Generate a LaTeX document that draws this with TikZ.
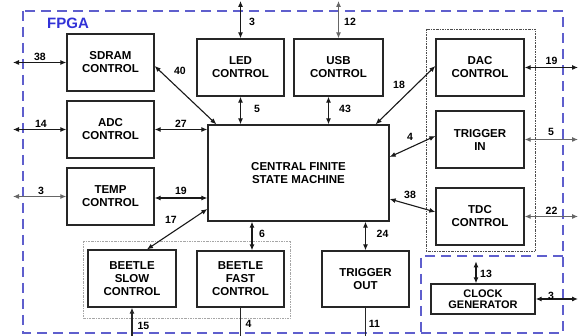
\documentclass[tikz,border=0pt]{standalone}
\usepackage{fontspec}
\setmainfont{Liberation Sans}
\usetikzlibrary{arrows.meta,calc}
\definecolor{fpgablue}{RGB}{95,95,205}
\definecolor{fpgatext}{RGB}{50,50,215}
\begin{document}
\begin{tikzpicture}[x=1pt,y=-1pt,
  blk/.style={draw=black!85,line width=1.3pt,minimum width=87pt,minimum height=57pt,inner sep=0pt,align=center,font=\bfseries\fontsize{11.5}{13}\selectfont},
  lbl/.style={font=\bfseries\fontsize{10.5}{12}\selectfont,inner sep=0pt},
  conn/.style={line width=1.1pt,black!90,{Latex[length=6pt,width=5pt]}-{Latex[length=6pt,width=5pt]}},
  gconn/.style={conn,black!60},
  plain/.style={line width=1.1pt,black!85},
  fpgaline/.style={draw=fpgablue,line width=1.4pt,dash pattern=on 10pt off 6pt},
  grpdark/.style={draw=black!70,line width=0.8pt,dash pattern=on 2pt off 1pt on 0.6pt off 1pt},
  grplight/.style={draw=black!35,line width=0.8pt,dash pattern=on 2pt off 1pt on 0.6pt off 1pt}]
\useasboundingbox (0,0) rectangle (582,336);
\fill[white] (0,0) rectangle (582,336);
% FPGA border and clock region
\draw[fpgaline] (23,11) rectangle (563,333);
\draw[fpgaline] (563,256) -- (421,256) -- (421,333);
\node[font=\bfseries\fontsize{15}{15}\selectfont,text=fpgatext,anchor=west,inner sep=0pt] (fpga) at (47,23) {FPGA};
% groups
\draw[grpdark] (426,29) rectangle (535,251);
\draw[grplight] (83,241) rectangle (290,318);
% blocks
\node[blk] (sdram) at (110.5,62.5) {SDRAM\\CONTROL};
\node[blk] (adc) at (110.5,129.5) {ADC\\CONTROL};
\node[blk] (temp) at (110.5,196.5) {TEMP\\CONTROL};
\node[blk,minimum width=88pt] (bslow) at (132,278.5) {BEETLE\\SLOW\\CONTROL};
\node[blk,minimum height=56pt] (bfast) at (240.5,279) {BEETLE\\FAST\\CONTROL};
\node[blk,minimum height=56pt] (tout) at (365.5,279) {TRIGGER\\OUT};
\node[blk,minimum width=181pt,minimum height=96pt] (fsm) at (298.5,173) {CENTRAL FINITE\\STATE MACHINE};
\node[blk] (led) at (240.5,67.5) {LED\\CONTROL};
\node[blk,minimum width=89pt] (usb) at (338.5,67.5) {USB\\CONTROL};
\node[blk,minimum width=88pt] (dac) at (480,67.5) {DAC\\CONTROL};
\node[blk,minimum width=88pt] (tin) at (480,139.5) {TRIGGER\\IN};
\node[blk,minimum width=88pt] (tdc) at (480,216.5) {TDC\\CONTROL};
\node[blk,minimum width=104pt,minimum height=30pt,font=\bfseries\fontsize{11}{11.5}\selectfont] (clk) at (483,299) {CLOCK\\GENERATOR};
% outside reference points
\coordinate (L) at (13,0);
\coordinate (R) at (578,0);
\coordinate (T) at (0,1);
\coordinate (B) at (0,336);
% left I/O
\draw[conn] (L |- sdram.west) -- (sdram.west);
\draw[conn] (L |- adc.west) -- (adc.west);
\draw[gconn] (L |- temp.west) -- (temp.west);
% top I/O
\draw[conn] (led.north |- T) -- (led.north);
\draw[gconn] (usb.north |- T) -- (usb.north);
% right I/O
\draw[conn] (dac.east) -- (dac.east -| R);
\draw[gconn] (tin.east) -- (tin.east -| R);
\draw[gconn] (tdc.east) -- (tdc.east -| R);
\draw[conn] (clk.east) -- (clk.east -| R);
% bottom I/O
\draw[line width=1.1pt,black!85,-{Latex[length=6pt,width=5pt]}] (bslow.south |- B) -- (bslow.south);
\draw[plain] (bfast.south) -- (bfast.south |- B);
\draw[plain] (tout.south) -- (tout.south |- B);
% internal links
\coordinate (fsmT) at ($(fsm.west)+(0,25)$);
\draw[conn] ($(fsm.north west)+(9,0)$) -- ($(sdram.east)+(0,3.5)$);
\draw[conn] (fsm.west |- adc.east) -- (adc.east);
\draw[conn] (fsmT) -- (temp.east |- fsmT);
\draw[conn] ($(fsm.west)+(0,36)$) -- ($(bslow.north)+(15,0)$);
\draw[conn] (led.south) -- (led.south |- fsm.north);
\draw[conn] ($(usb.south)+(-10,0)$) -- ($(usb.south |- fsm.north)+(-10,0)$);
\draw[conn] ($(fsm.north east)+(-14,0)$) -- ($(dac.west)+(0,-1.5)$);
\draw[conn] ($(fsm.east)+(0,-16)$) -- ($(tin.west)+(0,-3.5)$);
\draw[conn] ($(fsm.east)+(0,26)$) -- ($(tdc.west)+(0,-4.5)$);
\draw[conn] ($(fsm.south -| bfast.north)+(11.5,0)$) -- ($(bfast.north)+(11.5,0)$);
\draw[conn] (fsm.south -| tout.north) -- (tout.north);
\draw[conn] ($(clk.north)+(-7,0)$) -- ($(clk.north)+(-7,-22)$);
% labels
\node[lbl] (l1) at (40,57) {38};
\node[lbl] (l2) at (41,123.5) {14};
\node[lbl] (l3) at (41,190.5) {3};
\node[lbl] (l4) at (180,70.5) {40};
\node[lbl] (l5) at (181,123.5) {27};
\node[lbl] (l6) at (181,190.5) {19};
\node[lbl] (l7) at (171,219.5) {17};
\node[lbl] (l8) at (252,22) {3};
\node[lbl] (l9) at (350,22) {12};
\node[lbl] (l10) at (257,109) {5};
\node[lbl] (l11) at (345,109) {43};
\node[lbl] (l12) at (399,84.5) {18};
\node[lbl] (l13) at (410,137) {4};
\node[lbl] (l14) at (410,194.5) {38};
\node[lbl] (l15) at (551.5,60.5) {19};
\node[lbl] (l16) at (551,132) {5};
\node[lbl] (l17) at (551.5,210.5) {22};
\node[lbl] (l18) at (551,296) {3};
\node[lbl] (l19) at (486,274) {13};
\node[lbl] (l20) at (262,233.5) {6};
\node[lbl] (l21) at (382.5,233.5) {24};
\node[lbl] (l22) at (248.5,324) {4};
\node[lbl] (l23) at (374.5,324) {11};
\node[lbl] (l24) at (143.5,325.5) {15};
\end{tikzpicture}
\end{document}
